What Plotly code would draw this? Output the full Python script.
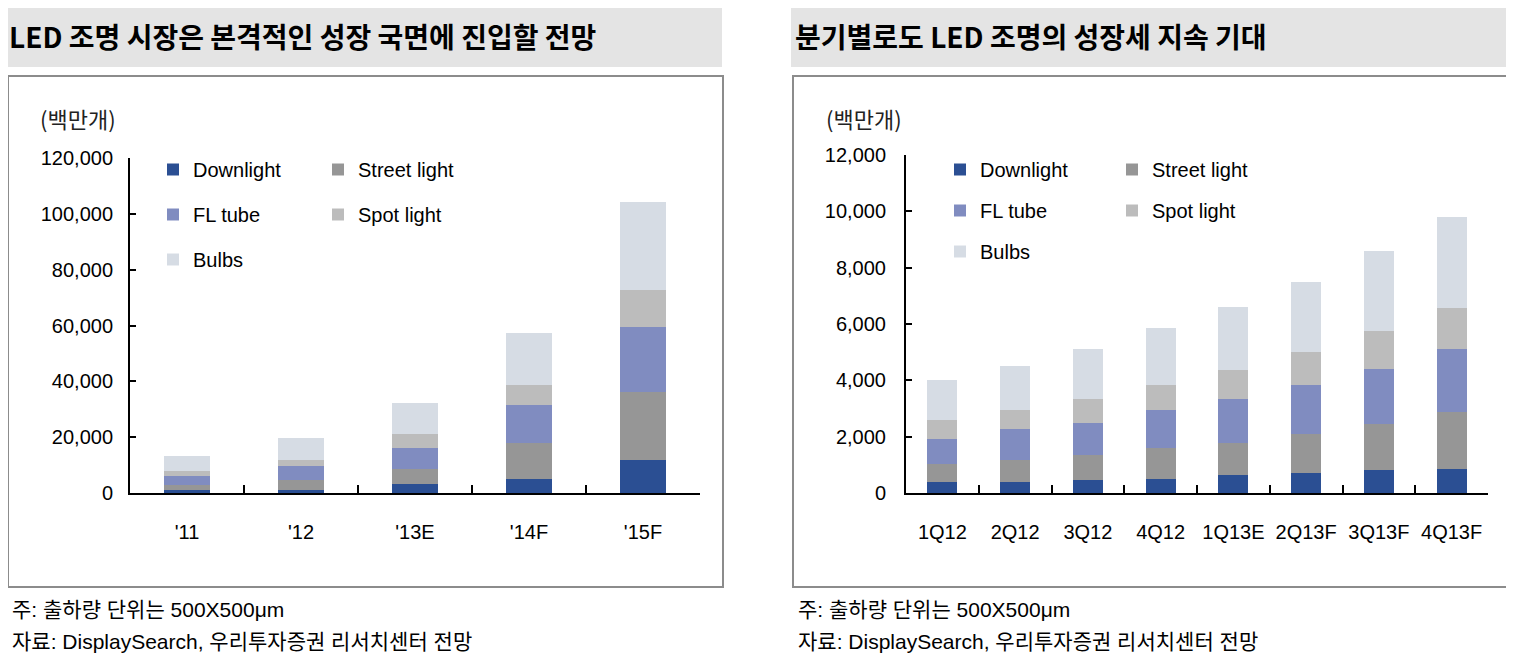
import plotly.graph_objects as go

# page body has an 8px margin; the figure is sized/shifted to compensate
OFF = 8
W, H = 1514 - OFF, 657 - OFF

# ---------------- data ----------------
series = ["Downlight", "Street light", "FL tube", "Spot light", "Bulbs"]
colors = ["#2b4f93", "#969696", "#808cc0", "#bcbcbc", "#d6dce4"]

years = ["'11", "'12", "'13E", "'14F", "'15F"]
y_downlight = [1200, 1200, 3100, 5100, 11900]
y_street = [1800, 3300, 5600, 12800, 24400]
y_fltube = [3200, 5050, 7500, 13500, 23300]
y_spot = [1800, 2400, 5000, 7400, 13200]
y_bulbs = [5400, 7750, 11000, 18600, 31600]

quarters = ["1Q12", "2Q12", "3Q12", "4Q12", "1Q13E", "2Q13F", "3Q13F", "4Q13F"]
q_downlight = [375, 375, 445, 505, 625, 695, 800, 870]
q_street = [665, 800, 910, 1110, 1160, 1405, 1645, 1990]
q_fltube = [890, 1110, 1140, 1315, 1565, 1740, 1970, 2240]
q_spot = [675, 645, 850, 910, 1000, 1150, 1345, 1475]
q_bulbs = [1415, 1585, 1770, 2020, 2255, 2505, 2820, 3225]

title_left = "LED 조명 시장은 본격적인 성장 국면에 진입할 전망"
title_right = "분기별로도 LED 조명의 성장세 지속 기대"
unit_label = "(백만개)"
note1 = "주: 출하량 단위는 500X500μm"
note2 = "자료: DisplaySearch, 우리투자증권 리서치센터 전망"

# ---------------- helpers (page px -> paper fraction) ----------------
def px(x):
    return (x - OFF) / W

def py(y):
    return 1 - (y - OFF) / H

LAT = "Liberation Sans, Arial, Noto Sans CJK KR, sans-serif"
KR = "Noto Sans CJK KR, sans-serif"

fig = go.Figure()

left_vals = [y_downlight, y_street, y_fltube, y_spot, y_bulbs]
right_vals = [q_downlight, q_street, q_fltube, q_spot, q_bulbs]
left_leg = ["legend", "legend2", "legend", "legend2", "legend"]
right_leg = ["legend3", "legend4", "legend3", "legend4", "legend3"]

for name, vals, col, lg in zip(series, left_vals, colors, left_leg):
    fig.add_trace(go.Bar(x=years, y=vals, name=name, marker=dict(color=col, line=dict(width=0)),
                         xaxis="x", yaxis="y", legend=lg, legendgroup="L" + name))
for name, vals, col, lg in zip(series, right_vals, colors, right_leg):
    fig.add_trace(go.Bar(x=quarters, y=vals, name=name, marker=dict(color=col, line=dict(width=0)),
                         xaxis="x2", yaxis="y2", legend=lg, legendgroup="R" + name))

axis_common = dict(showline=True, linecolor="black", linewidth=2, ticks="inside",
                   tickcolor="black", tickwidth=2, showgrid=False, zeroline=False,
                   automargin=False,
                   tickfont=dict(family=LAT, size=20, color="black"))

fig.update_layout(
    width=W, height=H, margin=dict(l=0, r=0, t=0, b=0, pad=0, autoexpand=False),
    paper_bgcolor="white", plot_bgcolor="white",
    barmode="stack", bargap=0.59,
    xaxis=dict(domain=[px(130), px(700)], anchor="y", type="category", range=[-0.5, 4.5],
               tickson="boundaries", ticklen=8, ticklabelstandoff=20, **axis_common),
    yaxis=dict(domain=[py(493), py(158)], anchor="x", range=[0, 120000], dtick=20000,
               tickformat=",", ticklen=6, ticklabelstandoff=11, **axis_common),
    xaxis2=dict(domain=[px(906), px(1488)], anchor="y2", type="category", range=[-0.5, 7.5],
                tickson="boundaries", ticklen=8, ticklabelstandoff=20, **axis_common),
    yaxis2=dict(domain=[py(493), py(155)], anchor="x2", range=[0, 12000], dtick=2000,
                tickformat=",", ticklen=6, ticklabelstandoff=14, **axis_common),
)

leg_common = dict(orientation="v", xanchor="left", yanchor="top", bgcolor="rgba(0,0,0,0)",
                  font=dict(family=LAT, size=20, color="black"), traceorder="grouped",
                  itemclick=False, itemdoubleclick=False)
fig.update_layout(
    legend=dict(x=px(153), y=py(150), tracegroupgap=16, **leg_common),
    legend2=dict(x=px(318), y=py(150), tracegroupgap=16, **leg_common),
    legend3=dict(x=px(940), y=py(150), tracegroupgap=12, **leg_common),
    legend4=dict(x=px(1112), y=py(150), tracegroupgap=12, **leg_common),
)

shapes = []
# title bars
for x0, x1 in [(5, 722), (791, 1509)]:
    shapes.append(dict(type="rect", xref="paper", yref="paper", x0=px(x0), x1=px(x1),
                       y0=py(67), y1=py(5), fillcolor="#e4e4e4", line=dict(width=0), layer="below"))
# chart frames
for x0, x1 in [(8, 723), (793, 1508)]:
    shapes.append(dict(type="rect", xref="paper", yref="paper", x0=px(x0), x1=px(x1),
                       y0=py(587), y1=py(76), line=dict(color="#8c8c8c", width=2),
                       fillcolor="rgba(0,0,0,0)", layer="below"))
fig.update_layout(shapes=shapes)

ann = []
for x, t in [(7, title_left), (793, title_right)]:
    ann.append(dict(text="<b>" + t + "</b>", x=px(x), y=py(36), xref="paper", yref="paper",
                    xanchor="left", yanchor="middle", showarrow=False,
                    font=dict(family=KR, size=28, color="black")))
for x in [78, 864]:
    ann.append(dict(text=unit_label, x=px(x), y=py(118), xref="paper", yref="paper",
                    xanchor="center", yanchor="middle", showarrow=False,
                    font=dict(family=KR, size=22, color="#222222")))
for x in [10, 796]:
    ann.append(dict(text=note1, x=px(x), y=py(609), xref="paper", yref="paper",
                    xanchor="left", yanchor="middle", showarrow=False,
                    font=dict(family=LAT, size=21, color="black")))
    ann.append(dict(text=note2, x=px(x), y=py(641), xref="paper", yref="paper",
                    xanchor="left", yanchor="middle", showarrow=False,
                    font=dict(family=LAT, size=21, color="black")))
fig.update_layout(annotations=ann)

fig.write_html("out.html")
